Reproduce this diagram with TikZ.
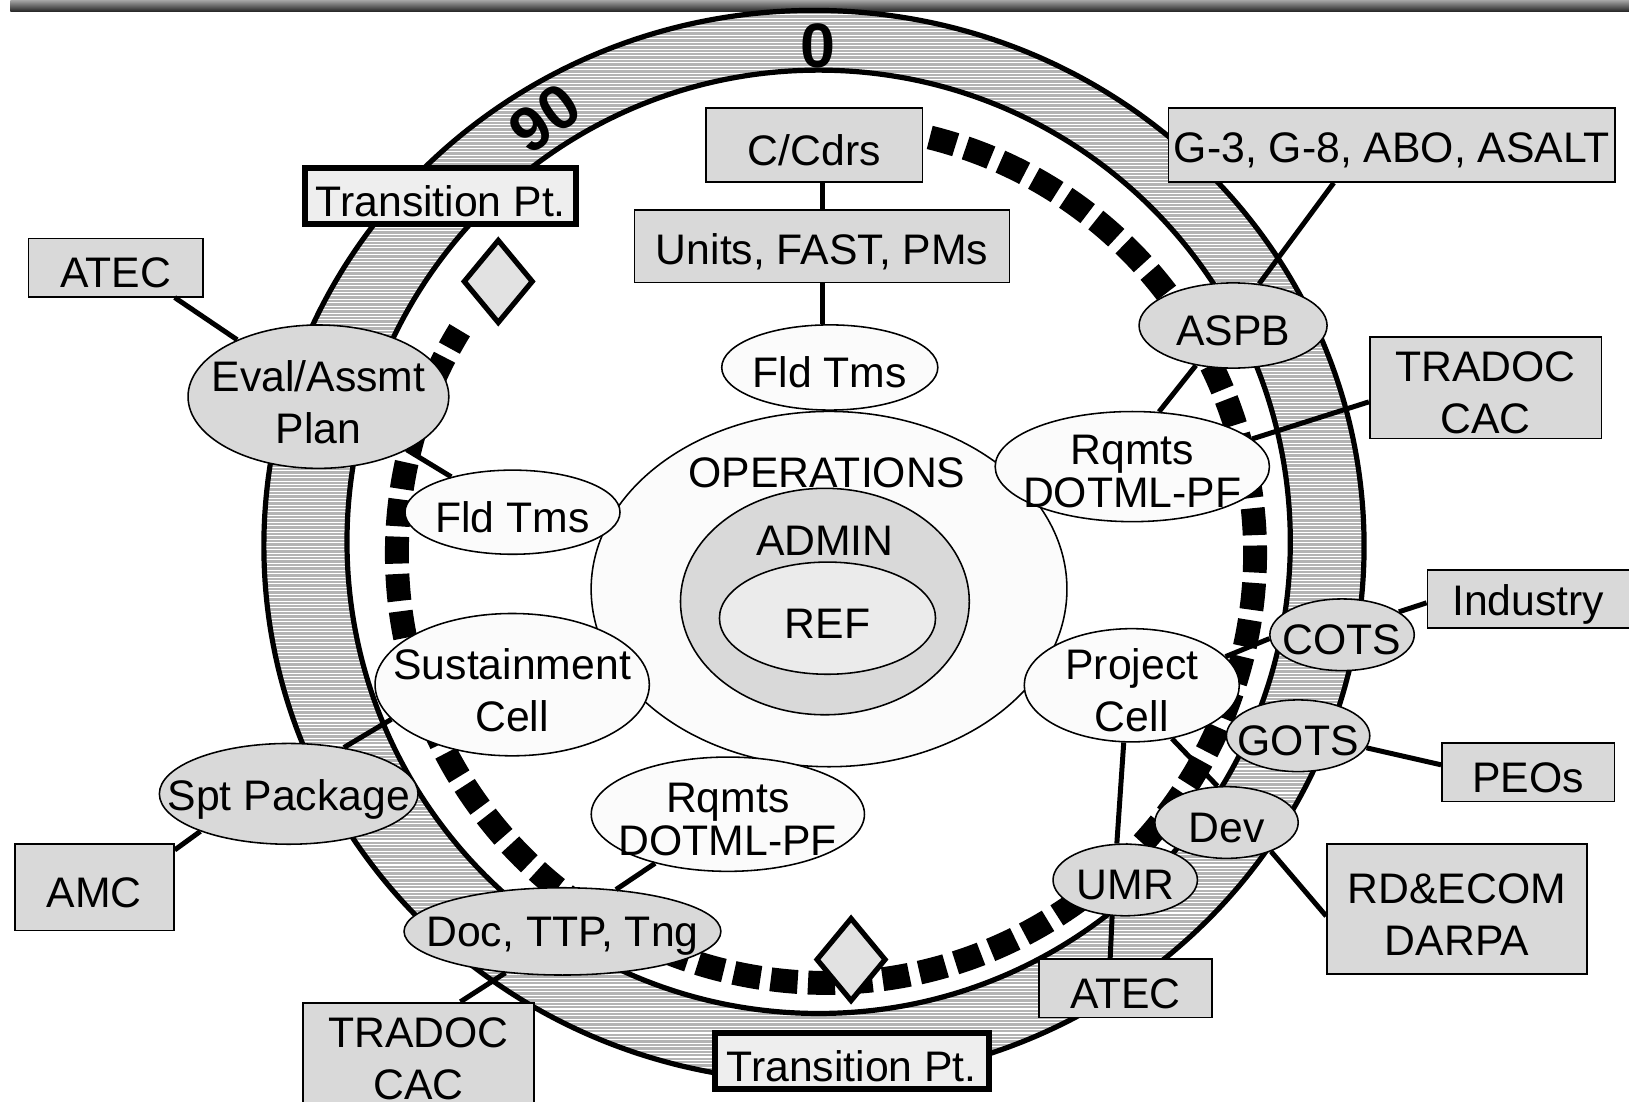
\documentclass[tikz,border=0pt]{standalone}
\usepackage{fontspec}
\setmainfont{Liberation Sans}
\usepackage{tikz}
\usetikzlibrary{shapes.geometric}
\definecolor{boxGray}{HTML}{D9D9D9}
\definecolor{cellWhite}{HTML}{FBFBFB}
\definecolor{refGray}{HTML}{EBEBEB}
\definecolor{transGray}{HTML}{EEEEEE}
\definecolor{stripeGray}{HTML}{B3B3B3}
\newcommand{\cellfont}{\fontsize{11.7}{14.2}\selectfont}
\tikzset{
  ringline/.style={
    line width=0.5mm,
    draw=black
  },
  stripe/.style={
    white,
    line width=0.1mm
  },
  dial/.style={
    font=\bfseries\fontsize{17.2}{20}\selectfont,
    inner sep=0pt
  },
  track/.style={
    line width=2.3mm,
    dash pattern=on 2.6mm off 1mm,
    draw=black
  },
  box/.style={
    rectangle,
    draw=black,
    fill=boxGray,
    line width=0.17mm,
    inner sep=0pt
  },
  transbox/.style={
    box,
    fill=transGray,
    line width=0.58mm
  },
  cell/.style={
    ellipse,
    draw=black,
    fill=cellWhite,
    line width=0.15mm,
    inner sep=0pt
  },
  graycell/.style={
    cell,
    fill=boxGray
  },
  txt/.style={
    align=center,
    inner sep=0pt,
    font=\cellfont
  },
  celltext/.style={
    txt,
    yshift=-0.5mm
  },
  tight/.style={
    font=\fontsize{11.7}{11.9}\selectfont
  },
  milestone/.style={
    diamond,
    draw=black,
    fill=transGray!95!black,
    line width=0.5mm,
    inner sep=0pt,
    minimum width=6.75mm,
    minimum height=8.1mm
  },
  link/.style={
    line width=0.48mm,
    draw=black
  }
}

\begin{document}
\begin{tikzpicture}[x=0.1mm,y=-0.1mm]
  \useasboundingbox (0,0) rectangle (1568,1060);
  \fill[white] (0,0) rectangle (1568,1060);
  % title bar
  \shade[top color=gray!70, bottom color=black!85] (10,0) rectangle (1568,11);
  % dial ring
  \begin{scope}[even odd rule]
    \clip (783.5,525.5) ellipse [x radius=529.5, y radius=515.5]
      (788,521.5) circle [radius=454];
    \fill[stripeGray] (0,0) rectangle (1568,1060);
    \foreach \yy in {1,4.3,...,1060}
      \draw[stripe] (0,\yy) -- (1568,\yy);
  \end{scope}
  \draw[ringline] (783.5,525.5) ellipse [x radius=529.5, y radius=515.5];
  \draw[ringline] (788,521.5) circle [radius=454];
  \node[dial] (zero) at (787.6,44) {0};
  \node[dial,rotate=36] (ninety) at (524.6,113.9) {90};
  % schedule track
  \draw[track] (795,533) ++(-76:413) arc [start angle=-76, end angle=211.4, radius=413];

  % core
  \node[cell, minimum width=45.8mm, minimum height=34.2mm] (ops) at (798,567) {};
  \node[cell, fill=boxGray, minimum width=27.8mm, minimum height=21.8mm] (admin) at (794,579) {};
  \node[cell, fill=refGray, minimum width=20.8mm, minimum height=10.8mm,
    label={[celltext]center:REF}] (ref) at (796.5,595) {};
  \node[txt] (opstext) at (796,455) {OPERATIONS};
  \node[txt] (admintext) at (794,520.5) {ADMIN};

  % inner cells
  \node[cell, minimum width=20.8mm, minimum height=8.2mm,
    label={[celltext]center:Fld Tms}] (fldA) at (798.7,353.7) {};
  \node[cell, minimum width=26.4mm, minimum height=10.6mm,
    label={[celltext,tight]center:Rqmts\\DOTML-PF}] (rqmtsA) at (1089.9,449.1) {};
  \node[cell, minimum width=20.7mm, minimum height=8.1mm,
    label={[celltext]center:Fld Tms}] (fldB) at (493.3,493) {};
  \node[cell, minimum width=26.4mm, minimum height=13.7mm,
    label={[celltext]center:Sustainment\\Cell}] (sust) at (493,659) {};
  \node[cell, minimum width=20.7mm, minimum height=10.9mm,
    label={[celltext]center:Project\\Cell}] (project) at (1089.4,659.6) {};
  \node[cell, minimum width=26.3mm, minimum height=11mm,
    label={[celltext,tight]center:Rqmts\\DOTML-PF}] (rqmtsB) at (700.6,783.7) {};

  % cells on the ring
  \node[graycell, minimum width=25.1mm, minimum height=13.8mm,
    label={[celltext]center:Eval/Assmt\\Plan}] (eval) at (306.5,381.8) {};
  \node[graycell, minimum width=18.1mm, minimum height=8.2mm,
    label={[celltext]center:ASPB}] (aspb) at (1186.9,313.3) {};
  \node[graycell, minimum width=13.9mm, minimum height=6.9mm,
    label={[celltext]center:COTS}] (cots) at (1291.8,611) {};
  \node[graycell, minimum width=13.8mm, minimum height=6.9mm,
    label={[celltext]center:GOTS}] (gots) at (1249.5,708.2) {};
  \node[graycell, minimum width=13.8mm, minimum height=6.9mm,
    label={[celltext]center:Dev}] (dev) at (1180.6,791.7) {};
  \node[graycell, minimum width=13.9mm, minimum height=6.9mm,
    label={[celltext]center:UMR}] (umr) at (1083.1,847) {};
  \node[graycell, minimum width=24.9mm, minimum height=9.7mm,
    label={[celltext]center:Spt Package}] (spt) at (277.9,764.1) {};
  \node[graycell, minimum width=30.5mm, minimum height=8.4mm,
    label={[celltext]center:{Doc, TTP, Tng}}] (doc) at (541.4,896.5) {};

  % boxes
  \node[box, minimum width=20.8mm, minimum height=7.1mm,
    label={[celltext]center:C/Cdrs}] (cdrs) at (783.9,139.6) {};
  \node[box, minimum width=36.1mm, minimum height=7mm,
    label={[celltext]center:{Units, FAST, PMs}}] (units) at (791.3,237) {};
  \node[box, minimum width=43mm, minimum height=7.1mm,
    label={[celltext]center:{G-3, G-8, ABO, ASALT}}] (g3) at (1339.8,139.6) {};
  \node[box, minimum width=22.3mm, minimum height=9.8mm,
    label={[celltext]center:TRADOC\\CAC}] (tradocA) at (1430,373) {};
  \node[box, minimum width=20.2mm, minimum height=5.6mm,
    label={[celltext,xshift=-0.4mm]center:Industry}] (industry) at (1475,576.7) {};
  \node[box, minimum width=16.6mm, minimum height=5.6mm,
    label={[celltext]center:PEOs}] (peos) at (1471,743.5) {};
  \node[box, minimum width=25mm, minimum height=12.5mm,
    label={[celltext]center:RD\&ECOM\\DARPA}] (rdecom) at (1402.4,875.2) {};
  \node[box, minimum width=16.7mm, minimum height=5.6mm,
    label={[celltext]center:ATEC}] (atecB) at (1083.3,951.4) {};
  \node[box, minimum width=22.2mm, minimum height=9.8mm,
    label={[celltext]center:TRADOC\\CAC}] (tradocB) at (402.8,1014.1) {};
  \node[box, minimum width=15.3mm, minimum height=8.3mm,
    label={[celltext]center:AMC}] (amc) at (90.8,854.2) {};
  \node[box, minimum width=16.8mm, minimum height=5.6mm,
    label={[celltext]center:ATEC}] (atecA) at (111.5,257.5) {};
  \node[transbox, minimum width=26.1mm, minimum height=5.4mm,
    label={[celltext]center:Transition Pt.}] (transA) at (424.3,188.5) {};
  \node[transbox, minimum width=26.4mm, minimum height=5.4mm,
    label={[celltext]center:Transition Pt.}] (transB) at (819.8,1021) {};

  % transition points
  \node[milestone] (tpA) at (479.6,270.9) {};
  \node[milestone] (tpB) at (819.2,923.6) {};

  % links
  \draw[link] (units.north) -- (units.north |- cdrs.south);
  \draw[link] (units.south) -- (units.south |- fldA.north);
  \draw[link] (atecA.-27) -- (eval.145);
  \draw[link] (eval.-31) -- (fldB.150);
  \draw[link] (g3.-147) -- (aspb.58);
  \draw[link] (aspb.-133) -- (rqmtsA.64);
  \draw[link] (tradocA.-173) -- (rqmtsA.13);
  \draw[link] (industry.-178) -- (cots.22);
  \draw[link] (cots.-177) -- (project.17);
  \draw[link] (gots.-10) -- (peos.175);
  \draw[link] (project.-53) -- (dev.104);
  \draw[link] (project.-98) -- (umr.103);
  \draw[link] (dev.-33) -- (rdecom.-177);
  \draw[link] (umr.-110) -- (atecB.117);
  \draw[link] (sust.-164) -- (spt.40);
  \draw[link] (spt.-157) -- (amc.25);
  \draw[link] (doc.38) -- (rqmtsB.-146);
  \draw[link] (doc.-144) -- (tradocB.51);
\end{tikzpicture}
\end{document}
